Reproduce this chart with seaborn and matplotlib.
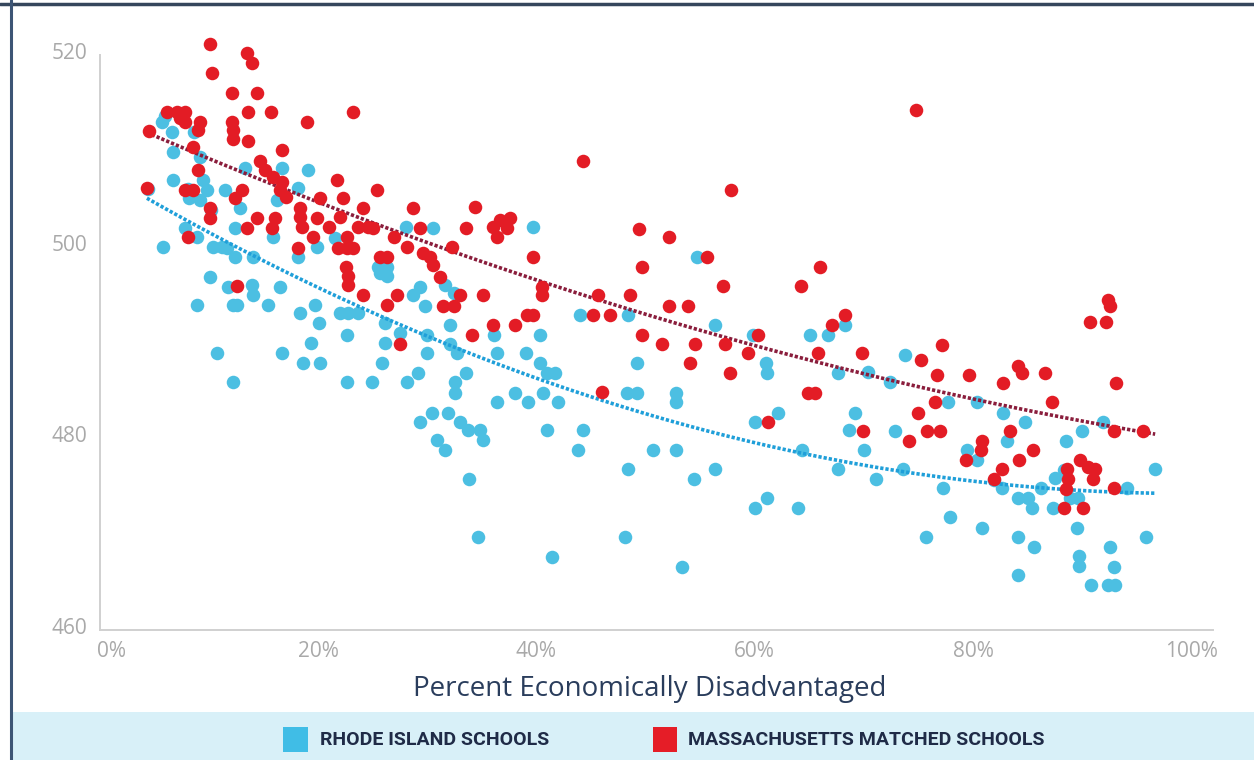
import numpy as np
import pandas as pd
import seaborn as sns
import matplotlib.pyplot as plt
from matplotlib.patches import Rectangle
from matplotlib.lines import Line2D
import matplotlib.transforms as mtransforms

# ---------------- data: percent economically disadvantaged vs. score ----------------
# Rhode Island schools
ri_pct_low = [5.7, 6.6, 6.7, 9.2, 6.7, 5.8, 8.2, 9.2, 9.8, 9.4,
              7.8, 8.9, 11.5, 10.1, 10.7, 12.2, 8.9, 10.4, 11.2, 11.6,
              12.4, 11.7, 12.2, 12.6, 13.9, 14.0, 12.8, 12.4, 13.3, 16.7,
              19.1, 15.4, 15.9, 14.0, 16.5, 16.2, 18.1, 16.7, 18.3, 18.1,
              19.3, 18.6, 20.2, 19.7, 20.1, 19.9, 21.5, 22.0, 22.7, 23.6,
              22.6, 22.6, 24.9, 25.8, 25.5, 25.7, 26.3, 26.3, 26.1, 26.1,
              4.4, 6.0, 7.4, 8.1, 8.6, 10.2]
ri_score_low = [513.0, 512.0, 509.9, 509.4, 507.0, 500.0, 505.1, 504.9, 505.9, 507.0,
                502.0, 501.0, 505.9, 496.8, 488.9, 485.9, 493.9, 500.0, 500.0, 499.9,
                498.9, 495.8, 493.9, 493.9, 496.0, 495.0, 504.0, 502.0, 508.2, 508.2,
                508.0, 493.9, 501.0, 498.9, 495.8, 504.9, 506.1, 488.9, 493.1, 498.9,
                490.0, 487.9, 487.9, 493.9, 492.0, 500.0, 500.9, 493.1, 493.1, 493.1,
                490.8, 485.9, 485.9, 487.9, 497.9, 497.3, 497.9, 497.0, 492.0, 490.0,
                506.0, 513.6, 513.6, 506.0, 512.0, 503.8]

ri_pct_mid = [28.0, 30.5, 39.7, 29.3, 28.7, 29.8, 31.6, 32.4, 32.1, 27.5,
              30.0, 32.1, 32.7, 30.0, 36.4, 36.1, 40.3, 39.0, 40.3, 41.0,
              41.7, 33.5, 32.5, 29.1, 28.1, 32.5, 38.0, 39.2, 40.6, 42.0,
              36.4, 30.4, 31.9, 29.3, 33.0, 33.7, 34.8, 35.1, 30.9, 31.6,
              41.0, 44.3, 43.8, 33.8, 34.6, 41.4, 44.0, 48.4, 49.2, 48.3,
              49.2, 52.8, 52.8, 50.7, 52.8, 48.4, 48.1, 53.3, 54.7, 56.4,
              59.8, 61.0, 61.1, 62.1, 60.0, 54.4, 56.4, 60.0, 61.1, 64.0,
              64.3, 65.1, 66.7, 67.6, 68.6, 67.6, 68.3, 70.4, 73.8]
ri_score_mid = [502.1, 502.0, 502.1, 495.8, 495.0, 493.8, 496.0, 495.2, 491.8, 491.0,
                490.8, 489.9, 488.9, 488.9, 488.9, 490.8, 490.8, 488.9, 487.9, 486.8,
                486.8, 486.8, 485.9, 486.8, 485.9, 484.7, 484.7, 483.8, 484.7, 483.8,
                483.8, 482.7, 482.7, 481.7, 481.7, 480.9, 480.9, 479.8, 479.8, 478.8,
                480.9, 480.9, 478.8, 475.8, 469.7, 467.6, 492.9, 492.9, 487.9, 484.7,
                484.7, 484.7, 483.8, 478.8, 478.8, 476.8, 469.7, 466.6, 498.9, 491.8,
                490.8, 487.9, 486.8, 482.7, 481.7, 475.8, 476.8, 472.7, 473.8, 472.7,
                478.8, 490.8, 490.8, 486.8, 480.9, 476.8, 491.8, 486.9, 488.7]

ri_pct_high = [69.2, 72.4, 72.9, 70.0, 71.1, 73.6, 77.7, 77.3, 77.9, 75.7,
               80.4, 79.5, 80.4, 80.8, 82.8, 83.1, 84.8, 81.9, 82.7, 84.1,
               85.0, 85.4, 84.1, 85.6, 84.1, 86.2, 87.3, 87.5, 88.5, 90.0,
               88.3, 88.9, 89.6, 89.5, 89.7, 89.7, 90.8, 91.9, 92.6, 92.9,
               92.4, 93.0, 94.1, 95.9, 96.7]
ri_score_high = [482.7, 485.9, 480.8, 478.8, 475.8, 476.8, 483.8, 474.8, 471.8, 469.7,
                 483.8, 478.8, 477.7, 470.6, 482.7, 479.7, 481.7, 475.7, 474.8, 473.8,
                 473.8, 472.7, 469.7, 468.7, 465.7, 474.8, 472.7, 475.9, 479.7, 480.8,
                 476.7, 473.8, 473.8, 470.6, 467.7, 466.7, 464.7, 481.7, 468.7, 466.6,
                 464.7, 464.7, 474.8, 469.7, 476.8]

# Massachusetts matched schools
ma_pct_low = [10.1, 13.5, 13.9, 10.3, 12.1, 14.4, 6.1, 7.1, 7.8, 7.3,
              7.8, 13.6, 15.7, 23.2, 4.5, 9.2, 9.0, 12.1, 12.2, 12.2,
              13.6, 8.5, 19.0, 16.7, 4.3, 7.8, 8.5, 9.0, 10.1, 10.1,
              8.1, 12.4, 13.0, 13.5, 14.4, 12.6, 14.7, 15.1, 15.9, 16.7,
              16.5, 17.0, 16.0, 15.8, 18.3, 18.3, 18.5, 18.1, 19.5, 20.2,
              19.9, 21.0, 21.7, 22.3, 22.0, 22.6, 23.2, 22.6, 21.8, 22.5,
              22.7, 22.7, 24.1, 23.6, 24.6, 25.0, 25.4, 24.1, 25.7, 26.3,
              26.9, 26.3, 27.2]
ma_score_low = [521.2, 520.2, 519.2, 518.1, 516.1, 516.1, 514.1, 514.1, 514.1, 513.4,
                513.0, 514.1, 514.1, 514.1, 512.1, 513.0, 512.2, 513.0, 512.2, 511.3,
                511.0, 510.4, 513.0, 510.1, 506.1, 505.9, 505.9, 508.0, 504.0, 503.0,
                501.0, 505.1, 505.9, 502.0, 503.0, 495.9, 509.0, 508.0, 507.3, 506.8,
                505.9, 505.2, 503.0, 502.0, 504.0, 503.1, 502.1, 499.9, 501.0, 505.1,
                503.0, 502.1, 507.0, 505.1, 503.1, 501.0, 499.9, 499.9, 499.9, 497.9,
                497.0, 496.0, 504.0, 502.1, 502.1, 502.0, 505.9, 495.0, 498.9, 498.9,
                501.0, 493.9, 495.0]

ma_pct_mid = [28.7, 34.4, 29.3, 33.5, 36.0, 36.7, 37.6, 36.4, 37.3, 32.3,
              28.1, 29.6, 30.2, 30.5, 31.2, 33.0, 31.4, 32.4, 35.1, 39.7,
              40.5, 40.5, 39.1, 39.7, 38.0, 36.0, 34.1, 27.5, 49.4, 52.1,
              49.7, 45.6, 48.6, 45.2, 46.7, 46.0, 49.7, 51.5, 52.1, 53.9,
              54.1, 54.5, 55.6, 57.1, 57.3, 57.7, 59.4, 60.3, 61.2, 64.2,
              66.0, 65.8, 64.9, 65.5, 67.1, 68.3, 44.3, 57.8]
ma_score_mid = [504.0, 504.1, 502.0, 502.0, 502.1, 502.8, 503.0, 501.0, 502.0, 500.0,
                500.0, 499.3, 498.9, 498.1, 496.8, 495.0, 493.8, 493.8, 495.0, 498.9,
                495.8, 495.0, 492.9, 492.9, 491.8, 491.8, 490.8, 489.9, 501.9, 501.0,
                497.9, 495.0, 495.0, 492.9, 492.9, 484.8, 490.8, 489.9, 493.8, 493.8,
                487.9, 489.9, 498.9, 495.9, 489.9, 486.8, 488.9, 490.8, 481.7, 495.9,
                497.9, 488.9, 484.7, 484.7, 491.8, 492.9, 509.0, 505.9]

ma_pct_high = [69.8, 74.8, 75.2, 76.7, 77.2, 79.6, 84.1, 84.5, 86.6, 90.7,
               92.2, 92.4, 92.6, 82.8, 93.1, 76.5, 75.0, 69.9, 74.1, 75.8,
               77.0, 87.2, 80.8, 80.7, 79.4, 83.4, 85.5, 84.2, 82.7, 81.9,
               89.8, 88.6, 90.5, 91.2, 91.0, 88.7, 88.5, 88.3, 90.1, 92.9,
               92.9, 95.6]
ma_score_high = [488.9, 514.3, 488.2, 486.6, 489.7, 486.6, 487.6, 486.8, 486.8, 492.1,
                 492.1, 494.4, 493.8, 485.8, 485.8, 483.8, 482.7, 480.8, 479.7, 480.8,
                 480.8, 483.8, 479.7, 478.8, 477.7, 480.8, 478.8, 477.7, 476.8, 475.8,
                 477.7, 476.8, 477.0, 476.8, 475.8, 475.8, 474.7, 472.7, 472.7, 474.8,
                 480.8, 480.8]

x_ticks = [0, 20, 40, 60, 80, 100]
x_tick_labels = ["0%", "20%", "40%", "60%", "80%", "100%"]
y_ticks = [460, 480, 500, 520]
x_title = "Percent Economically Disadvantaged"
series_names = ["RHODE ISLAND SCHOOLS", "MASSACHUSETTS MATCHED SCHOOLS"]

ri = pd.DataFrame({"pct": ri_pct_low + ri_pct_mid + ri_pct_high,
                   "score": ri_score_low + ri_score_mid + ri_score_high})
ma = pd.DataFrame({"pct": ma_pct_low + ma_pct_mid + ma_pct_high,
                   "score": ma_score_low + ma_score_mid + ma_score_high})

# ---------------- styling ----------------
RI_DOT = "#4cbfe2"
MA_DOT = "#e31c25"
RI_TREND = "#1f9fd9"
MA_TREND = "#8a1d3c"
TICK_GREY = "#a9a9a9"
NAVY = "#2a3d5c"

sns.set_theme(style="white")
plt.rcParams["font.family"] = ["Open Sans", "DejaVu Sans"]

W, H = 1254, 760
fig = plt.figure(figsize=(W / 100, H / 100), dpi=100)
fig.patch.set_facecolor("white")
ax = fig.add_axes([100 / W, 130 / H, 1113 / W, 594 / H])
ax.set_facecolor("white")

# scatter: Rhode Island underneath
sns.scatterplot(data=ri, x="pct", y="score", color=RI_DOT, s=95,
                linewidth=0, ax=ax, zorder=2)

# quadratic trend lines across the shared data range
lo = min(ri["pct"].min(), ma["pct"].min())
hi = max(ri["pct"].max(), ma["pct"].max())
ax.set_xlim(lo, hi)
dotted = (0, (0.9, 0.55))
sns.regplot(data=ri, x="pct", y="score", order=2, scatter=False, ci=None,
            truncate=False, ax=ax,
            line_kws=dict(color=RI_TREND, lw=2.6, ls=dotted, zorder=3))
sns.regplot(data=ma, x="pct", y="score", order=2, scatter=False, ci=None,
            truncate=False, ax=ax,
            line_kws=dict(color=MA_TREND, lw=2.6, ls=dotted, zorder=3))

# Massachusetts on top
sns.scatterplot(data=ma, x="pct", y="score", color=MA_DOT, s=95,
                linewidth=0, ax=ax, zorder=4)

ax.set_xlim(0, 102)
ax.set_ylim(460, 522)
ax.set_xticks(x_ticks)
ax.set_xticklabels(x_tick_labels)
ax.set_yticks(y_ticks)
ax.set_xlabel("")
ax.set_ylabel("")
ax.grid(False)
ax.tick_params(axis="both", length=0, labelsize=15, labelcolor=TICK_GREY)
ax.tick_params(axis="x", pad=8)
ax.tick_params(axis="y", pad=9)
for lab in ax.get_yticklabels():
    lab.set_transform(lab.get_transform() +
                      mtransforms.ScaledTranslation(0, 3 / 72, fig.dpi_scale_trans))
first = ax.get_xticklabels()[0]
first.set_horizontalalignment("left")
first.set_transform(first.get_transform() +
                    mtransforms.ScaledTranslation(-3 / 100, 0, fig.dpi_scale_trans))

for side in ("top", "right"):
    ax.spines[side].set_visible(False)
for side in ("left", "bottom"):
    ax.spines[side].set_color("#d0d0d0")
    ax.spines[side].set_linewidth(1.4)
ax.spines["left"].set_bounds(460, 520)

fig.text(650 / W, 1 - 689 / H, x_title, ha="center", va="center",
         fontsize=20, color=NAVY)

# legend band
fig.add_artist(Rectangle((12 / W, 0), 1, 48 / H, transform=fig.transFigure,
                         facecolor="#d8f0f8", edgecolor="none", zorder=0))
legend_font = ["Roboto", "DejaVu Sans"]
fig.add_artist(Rectangle((283 / W, 1 - 752 / H), 25 / W, 25 / H,
                         transform=fig.transFigure, facecolor="#40bde6",
                         edgecolor="none"))
fig.text(320 / W, 1 - 740 / H, series_names[0], ha="left", va="center",
         fontsize=14, fontweight="bold", family=legend_font, color="#1f2b47")
fig.add_artist(Rectangle((653 / W, 1 - 752 / H), 24 / W, 25 / H,
                         transform=fig.transFigure, facecolor="#e51d27",
                         edgecolor="none"))
fig.text(688 / W, 1 - 740 / H, series_names[1], ha="left", va="center",
         fontsize=14, fontweight="bold", family=legend_font, color="#1f2b47")

# frame lines along the top and left edges
fig.add_artist(Line2D([0, 1], [1 - 3.5 / H] * 2, transform=fig.transFigure,
                      color="#35465c", lw=2.5))
fig.add_artist(Line2D([10.5 / W] * 2, [0, 1], transform=fig.transFigure,
                      color="#3d5575", lw=2.2))

fig.savefig("out.png", dpi=100, facecolor="white")
